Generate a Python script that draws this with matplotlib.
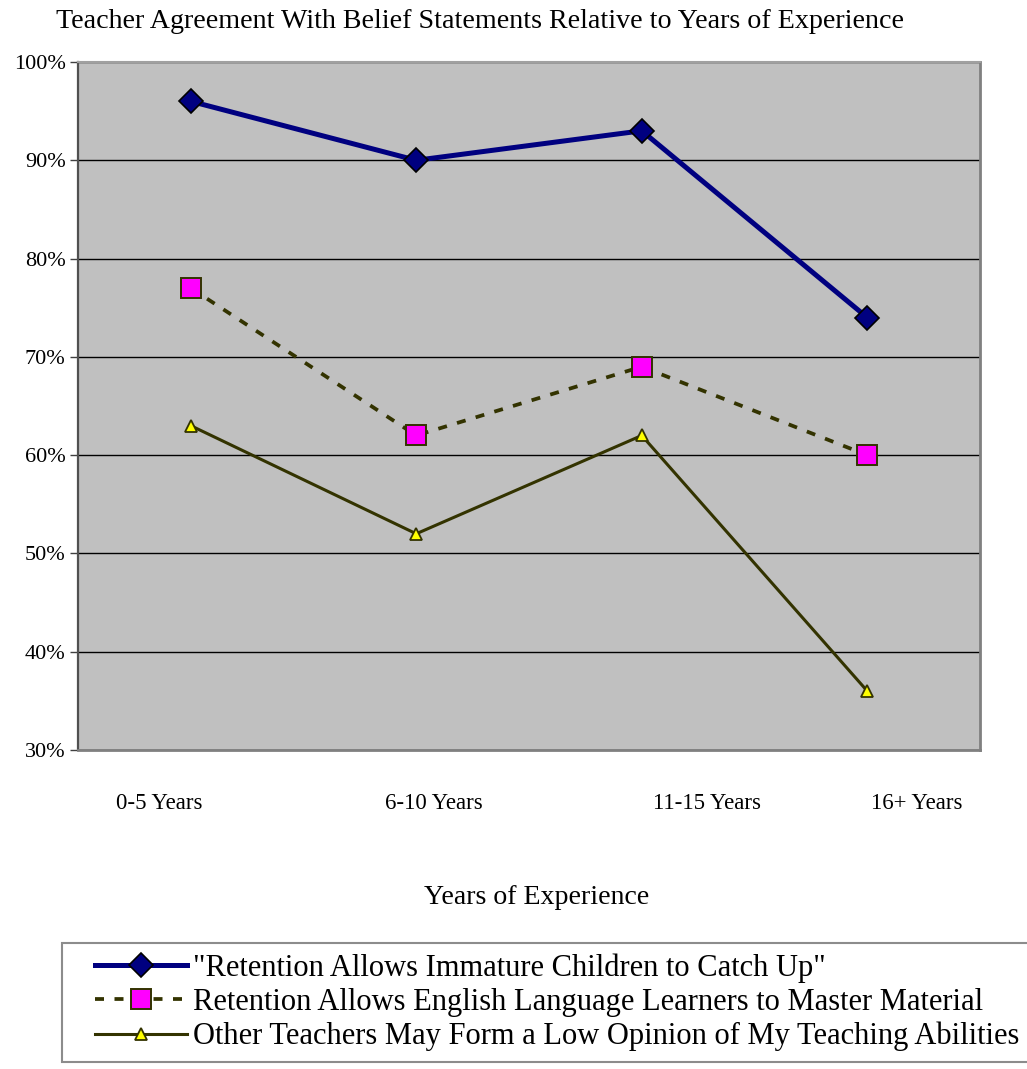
import numpy as np
import matplotlib
matplotlib.use("Agg")
import matplotlib.pyplot as plt
from matplotlib.ticker import FuncFormatter
from matplotlib.legend_handler import HandlerLine2D

plt.rcParams['font.family'] = ['Liberation Serif', 'DejaVu Serif']

# Данные: доля согласных учителей по стажу
categories = ['0-5 Years', '6-10 Years', '11-15 Years', '16+ Years']
label_pos = [-0.14, 1.08, 2.29, 3.22]   # подписи категорий смещены, как в Excel
immature = [96, 90, 93, 74]
ell = [77, 62, 69, 60]
low_opinion = [63, 52, 62, 36]

series_names = [
    '"Retention Allows Immature Children to Catch Up"',
    'Retention Allows English Language Learners to Master Material',
    'Other Teachers May Form a Low Opinion of My Teaching Abilities',
]

W, H = 1027, 1069
fig = plt.figure(figsize=(W / 100, H / 100), dpi=100)
ax = fig.add_axes([78 / W, 1 - 750 / H, (980 - 78) / W, (750 - 62) / H])
ax.set_facecolor('#C0C0C0')

x = np.arange(len(categories))
ax.plot(x, immature, color='#000080', lw=3.6, marker='D', ms=12.5,
        mfc='#000080', mec='black', mew=1.2, label=series_names[0], zorder=4)
ax.plot(x, ell, color='#333300', lw=2.7, ls=(0, (2.4, 2.8)), marker='s', ms=15,
        mfc='#FF00FF', mec='#333300', mew=1.4, label=series_names[1], zorder=3)
ax.plot(x, low_opinion, color='#333300', lw=2.2, marker='^', ms=8.5,
        mfc='#FFFF00', mec='#333300', mew=1.3, label=series_names[2], zorder=3)

ax.set_xlim(-0.5, 3.5)
ax.set_ylim(30, 100)
ax.set_yticks(np.arange(30, 101, 10))
ax.yaxis.set_major_formatter(FuncFormatter(lambda v, p: f'{v:.0f}%'))
ax.grid(axis='y', color='black', lw=1.0)
ax.set_axisbelow(True)

ax.set_xticks(label_pos)
ax.set_xticklabels(categories, fontsize=16.5)
ax.tick_params(axis='x', length=0, pad=31)
ax.tick_params(axis='y', length=6, width=1, color='#404040', labelsize=16, pad=3)

for side in ['right', 'bottom']:
    ax.spines[side].set_color('#808080')
    ax.spines[side].set_linewidth(2)
ax.spines['top'].set_color('#A0A0A0')
ax.spines['top'].set_linewidth(1.5)
ax.spines['left'].set_color('#505050')
ax.spines['left'].set_linewidth(1.6)

fig.text(480 / W, 1 - 21 / H,
         'Teacher Agreement With Belief Statements Relative to Years of Experience',
         ha='center', va='center', fontsize=20.2)
fig.text(537 / W, 1 - 897 / H, 'Years of Experience',
         ha='center', va='center', fontsize=20.1)

# линия маркера в легенде начинается с отступом от рамки
handler = HandlerLine2D(xpad=0.75)
leg = fig.legend(loc='upper left', bbox_to_anchor=(62 / W, 1 - 943 / H),
                 fontsize=22, frameon=True, fancybox=False, edgecolor='#707070',
                 handlelength=3.75, handletextpad=0.2, labelspacing=0.17,
                 borderpad=0.33, borderaxespad=0,
                 handler_map={ax.lines[i]: handler for i in range(3)})
leg.get_frame().set_linewidth(1.5)

fig.savefig('out.png', dpi=100)
